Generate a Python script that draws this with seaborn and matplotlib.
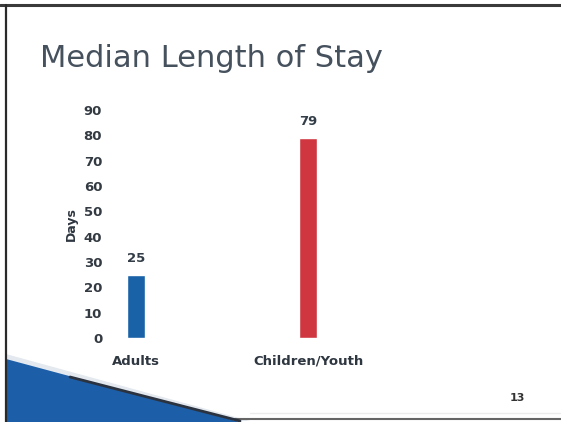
import matplotlib
matplotlib.use("Agg")
import matplotlib.pyplot as plt
import seaborn as sns
import pandas as pd
from matplotlib.patches import Polygon

# chart data
categories = ["Adults", "Children/Youth"]
median_days = [25, 79]
bar_colors = ["#1a62a8", "#d0363f"]
y_ticks = [0, 10, 20, 30, 40, 50, 60, 70, 80, 90]

sns.set_style("white")
plt.rcParams['font.family'] = ['DejaVu Sans']

W, H = 561, 422
fig = plt.figure(figsize=(W / 100, H / 100), dpi=100)
fig.patch.set_facecolor("white")

# slide decoration: frame and blue corner
def px(x, y):
    return (x / W, 1 - y / H)

fig.add_artist(plt.Line2D([0, 1], [1 - 5 / H, 1 - 5 / H], color="#3a3a3a", lw=2.2,
                          transform=fig.transFigure))
fig.add_artist(plt.Line2D([5.5 / W, 5.5 / W], [0, 1 - 5 / H], color="#2a2a2a", lw=1.6,
                          transform=fig.transFigure))
fig.add_artist(plt.Line2D([235 / W, 1], [1 - 419 / H, 1 - 419 / H], color="#666666", lw=1.5,
                          transform=fig.transFigure))
fig.add_artist(plt.Line2D([250 / W, 1], [1 - 413 / H, 1 - 413 / H], color="#ececec", lw=1.0,
                          transform=fig.transFigure))
shade = Polygon([px(6, 354), px(250, 421), px(6, 421)], closed=True,
                facecolor="#e4e9ef", edgecolor="none", transform=fig.transFigure)
fig.add_artist(shade)
tri = Polygon([px(6, 359), px(240, 422), px(6, 422)], closed=True,
              facecolor="#1c5ea8", edgecolor="none", transform=fig.transFigure)
fig.add_artist(tri)
fig.add_artist(plt.Line2D([px(70, 0)[0], px(240, 0)[0]],
                          [px(0, 377)[1], px(0, 421)[1]], color="#2b3340", lw=2.0,
                          transform=fig.transFigure))

fig.text(40 / W, 1 - 67 / H, "Median Length of Stay", fontsize=22,
         color="#46515e", va="baseline", ha="left")
fig.text(517 / W, 1 - 398 / H, "13", fontsize=8, fontweight="bold",
         color="#333333", ha="center", va="center")

# chart
ax_left, ax_right = 105, 480
ax_bottom, ax_top = 338, 110
ax = fig.add_axes([ax_left / W, 1 - ax_bottom / H, (ax_right - ax_left) / W,
                   (ax_bottom - ax_top) / H])
ax.patch.set_alpha(0)

df = pd.DataFrame({"group": categories, "days": median_days})
sns.barplot(data=df, x="group", y="days", hue="group", palette=bar_colors,
            width=0.105, legend=False, ax=ax, saturation=1)

ax.set_ylim(0, 90)
ax.set_xlim(-31 / 172, -31 / 172 + (ax_right - ax_left) / 172)
ax.set_yticks(y_ticks)
ax.set_yticklabels([str(t) for t in y_ticks], fontsize=9.5, fontweight="bold",
                   color="#333a42")
ax.tick_params(axis="y", length=0, pad=2)
ax.tick_params(axis="x", length=0, pad=12)
for lbl in ax.get_xticklabels():
    lbl.set_fontsize(9.5)
    lbl.set_fontweight("bold")
    lbl.set_color("#2e3640")
ax.set_xlabel("")
ax.set_ylabel("Days", fontsize=9, fontweight="bold", color="#2e3640", labelpad=4)
for s in ax.spines.values():
    s.set_visible(False)

for cont in ax.containers:
    ax.bar_label(cont, fmt="%d", padding=7, fontsize=9.5, fontweight="bold",
                 color="#333d47")

fig.savefig("out.png", dpi=100)
